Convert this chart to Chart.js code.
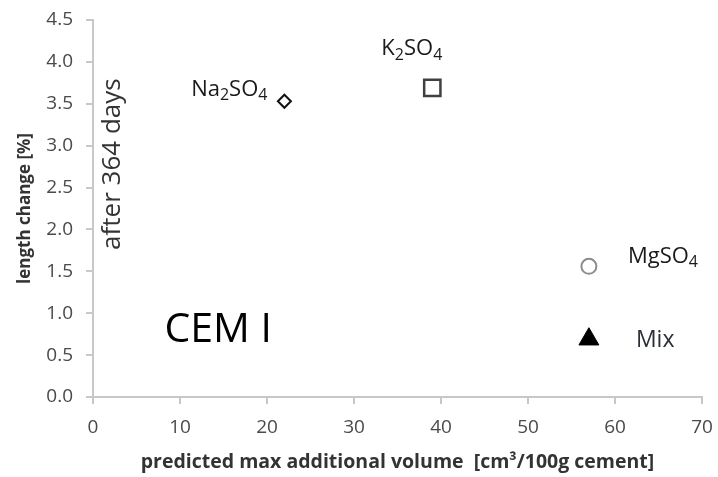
<!DOCTYPE html>
<html>
<head>
<meta charset="utf-8">
<script src="https://cdn.jsdelivr.net/npm/chart.js@4/dist/chart.umd.min.js"></script>
<style>
  html, body { margin: 0; padding: 0; background: #ffffff; }
  #wrap { width: 718px; height: 477px; }
</style>
</head>
<body>
<div id="wrap"><canvas id="chart" width="718" height="477"></canvas></div>
<script>
// Sulfate solutions tested on CEM I mortar
const saltNames = ['Na2SO4', 'K2SO4', 'MgSO4', 'Mix'];
// predicted max additional volume [cm³/100g cement]
const addedVolume = [22, 39, 57, 57];
// length change after 364 days [%]
const lengthChange = [3.53, 3.69, 1.56, 0.69];

const xTicks = [0, 10, 20, 30, 40, 50, 60, 70];
const yTicks = [0, 0.5, 1, 1.5, 2, 2.5, 3, 3.5, 4, 4.5];

const FONT = '"Open Sans", "DejaVu Sans", sans-serif';
const AXIS_GRAY = '#c8c8c8';

// marker look for each salt
const markerStyle = ['rectRot', 'rect', 'circle', 'triangle'];
const markerRadius = [6.5, 11.5, 7.5, 11.5];
const markerFill = ['#ffffff', '#ffffff', '#ffffff', '#000000'];
const markerEdge = ['#111111', '#404040', '#8c8c8c', '#000000'];
const markerEdgeWidth = [2, 2.5, 2, 1];

// label placement relative to its marker: [dx, dy, align]
const labelPlace = [
  [-17, -12, 'right'],
  [10, -39, 'right'],
  [39, -10, 'left'],
  [47, 1, 'left']
];

// draws a chemical formula with the digits set as subscripts
function drawFormula(ctx, text, x, y, align, size, color) {
  const parts = text.match(/[A-Za-z]+|\d+/g);
  const bigFont = size + 'px ' + FONT;
  const subFont = Math.round(size * 0.72) + 'px ' + FONT;
  let total = 0;
  const widths = parts.map(p => {
    ctx.font = /\d/.test(p) ? subFont : bigFont;
    const w = ctx.measureText(p).width;
    total += w;
    return w;
  });
  let cx = align === 'right' ? x - total : x;
  ctx.fillStyle = color;
  ctx.textAlign = 'left';
  ctx.textBaseline = 'middle';
  parts.forEach((p, i) => {
    const sub = /\d/.test(p);
    ctx.font = sub ? subFont : bigFont;
    ctx.fillText(p, cx, sub ? y + size * 0.28 : y);
    cx += widths[i];
  });
}

const annotations = {
  id: 'annotations',
  afterDatasetsDraw(chart) {
    const ctx = chart.ctx;
    const xs = chart.scales.x, ys = chart.scales.y;
    ctx.save();
    saltNames.forEach((name, i) => {
      const px = xs.getPixelForValue(addedVolume[i]);
      const py = ys.getPixelForValue(lengthChange[i]);
      const [dx, dy, align] = labelPlace[i];
      drawFormula(ctx, name, px + dx, py + dy, align, i === 3 ? 23 : 22, i === 3 ? '#2a2f38' : '#1a1a1a');
    });

    // exposure time, written vertically beside the y axis
    ctx.save();
    ctx.translate(xs.getPixelForValue(2.3), ys.getPixelForValue(2.78));
    ctx.rotate(-Math.PI / 2);
    ctx.font = '26px ' + FONT;
    ctx.fillStyle = '#333333';
    ctx.textAlign = 'center';
    ctx.textBaseline = 'middle';
    ctx.fillText('after 364 days', 0, 0);
    ctx.restore();

    // cement type
    ctx.font = '41px ' + FONT;
    ctx.fillStyle = '#000000';
    ctx.textAlign = 'center';
    ctx.textBaseline = 'middle';
    ctx.fillText('CEM I', xs.getPixelForValue(14.4), ys.getPixelForValue(0.8));
    ctx.restore();
  }
};

new Chart(document.getElementById('chart'), {
  type: 'scatter',
  data: {
    datasets: [{
      data: addedVolume.map((v, i) => ({ x: v, y: lengthChange[i] })),
      pointStyle: markerStyle,
      pointRadius: markerRadius,
      pointHoverRadius: markerRadius,
      pointBackgroundColor: markerFill,
      pointBorderColor: markerEdge,
      pointBorderWidth: markerEdgeWidth,
      showLine: false
    }]
  },
  options: {
    responsive: false,
    animation: false,
    devicePixelRatio: 1,
    layout: { padding: { top: 20, right: 16, left: 0, bottom: 0 } },
    plugins: {
      legend: { display: false },
      tooltip: { enabled: false }
    },
    scales: {
      x: {
        type: 'linear',
        min: 0, max: 70,
        afterBuildTicks: s => { s.ticks = xTicks.map(v => ({ value: v })); },
        afterFit: s => { s.height = 80; s.paddingLeft = 0; s.paddingRight = 0; },
        ticks: {
          color: '#4a4a4a',
          font: { family: FONT, size: 19 },
          padding: 12,
          maxRotation: 0,
          callback: v => String(v)
        },
        grid: { display: true, drawOnChartArea: false, drawTicks: true, tickLength: 7, color: AXIS_GRAY, lineWidth: 2 },
        border: { display: true, color: AXIS_GRAY, width: 2 },
        title: {
          display: true,
          text: 'predicted max additional volume  [cm³/100g cement]',
          color: '#333333',
          font: { family: FONT, size: 19.5, weight: 'bold' },
          padding: { top: 4, bottom: 3 }
        }
      },
      y: {
        type: 'linear',
        min: 0, max: 4.5,
        afterBuildTicks: s => { s.ticks = yTicks.map(v => ({ value: v })); },
        afterFit: s => { s.width = 93; s.paddingTop = 0; s.paddingBottom = 0; },
        ticks: {
          color: '#4a4a4a',
          font: { family: FONT, size: 19 },
          padding: 13,
          callback: v => v.toFixed(1)
        },
        grid: { display: true, drawOnChartArea: false, drawTicks: true, tickLength: 7, color: AXIS_GRAY, lineWidth: 2 },
        border: { display: true, color: AXIS_GRAY, width: 2 },
        title: {
          display: true,
          text: 'length change [%]',
          color: '#333333',
          font: { family: FONT, size: 17, weight: 'bold' },
          padding: { top: 15, bottom: 0 }
        }
      }
    }
  },
  plugins: [annotations]
});
</script>
</body>
</html>
